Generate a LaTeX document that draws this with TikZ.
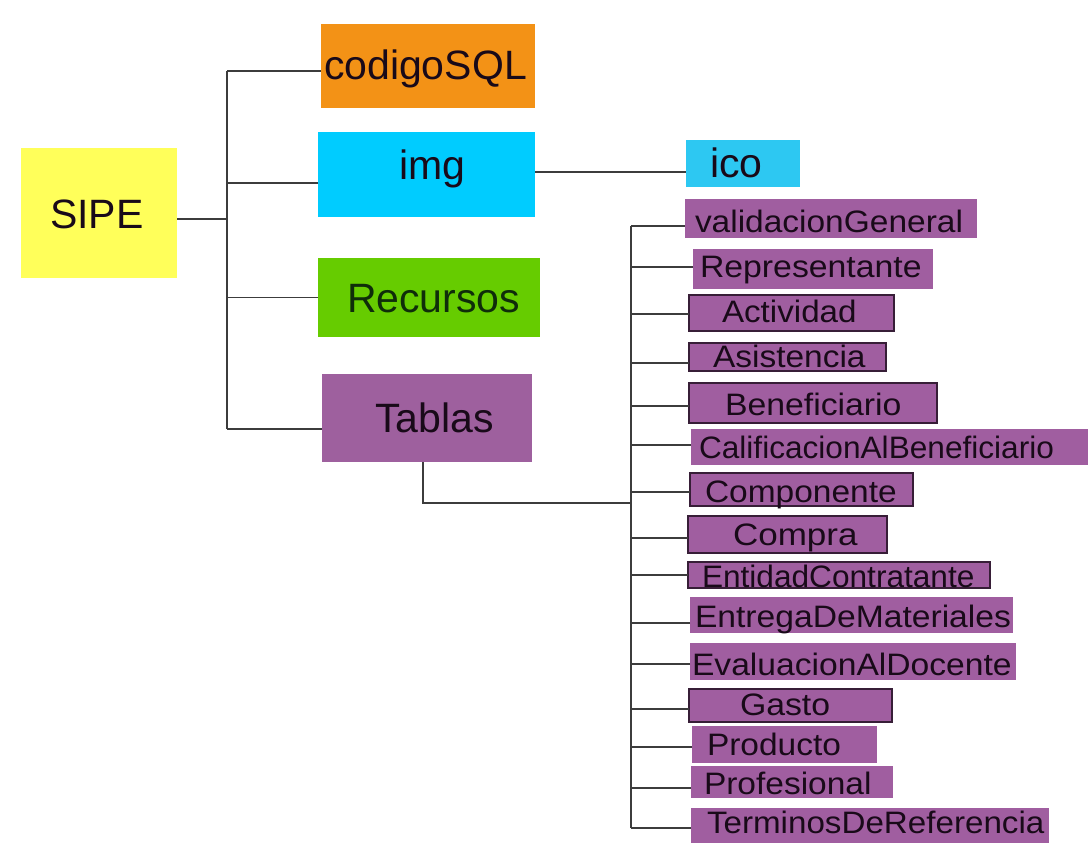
\documentclass[tikz,border=0pt]{standalone}
\usepackage{fontspec}
\setmainfont{Liberation Sans}
\usepackage{graphicx}

\definecolor{sipeYellow}{RGB}{255,255,90}
\definecolor{sqlOrange}{RGB}{243,146,22}
\definecolor{imgCyan}{RGB}{0,204,255}
\definecolor{icoCyan}{RGB}{45,200,242}
\definecolor{recGreen}{RGB}{102,204,0}
\definecolor{tabPurple}{RGB}{158,96,158}
\definecolor{leafPurple}{RGB}{160,94,160}
\definecolor{leafEdge}{RGB}{55,30,55}
\definecolor{lineGray}{RGB}{60,60,60}
\definecolor{inkDark}{RGB}{25,10,25}

\tikzset{
  boxbase/.style={rectangle, inner sep=0pt, outer sep=0pt, anchor=north west},
  bigbox/.style={boxbase},
  leafbox/.style={boxbase, fill=leafPurple},
  edged/.style={draw=leafEdge, line width=1.4pt},
  bigtext/.style={inner sep=0pt, outer sep=0pt, anchor=base west, text=inkDark,
    font=\fontsize{41pt}{41pt}\selectfont},
  leaftext/.style={inner sep=0pt, outer sep=0pt, anchor=base west, text=inkDark,
    font=\fontsize{31pt}{31pt}\selectfont},
  conn/.style={draw=lineGray, line width=1.5pt}
}

\begin{document}
\begin{tikzpicture}[x=1pt, y=-1pt]
  \useasboundingbox[fill=white] (0,0) rectangle (1089,843);

  % ---- top level boxes ----
  \node[bigbox, fill=sipeYellow, minimum width=156pt, minimum height=130pt] (sipe) at (21,148) {};
  \node[bigbox, fill=sqlOrange, minimum width=214pt, minimum height=84pt] (code) at (321,24) {};
  \node[bigbox, fill=imgCyan, minimum width=217pt, minimum height=85pt] (img) at (318,132) {};
  \node[bigbox, fill=icoCyan, minimum width=114pt, minimum height=47pt] (ico) at (686,140) {};
  \node[bigbox, fill=recGreen, minimum width=222pt, minimum height=79pt] (rec) at (318,258) {};
  \node[bigbox, fill=tabPurple, minimum width=210pt, minimum height=88pt] (tab) at (322,374) {};

  \node[bigtext] (sipe-t) at (50,228) {SIPE};
  \node[bigtext] (code-t) at (324,80) {codigoSQL};
  \node[bigtext] (img-t) at (399,179) {img};
  \node[bigtext] (ico-t) at (710,177) {ico};
  \node[bigtext, text={rgb,255:red,15;green,45;blue,10}] (rec-t) at (347,312) {Recursos};
  \node[bigtext] (tab-t) at (375,432) {Tablas};

  % ---- table leaves ----
  \node[leafbox, minimum width=292pt, minimum height=39pt] (vg) at (685,199) {};
  \node[leafbox, minimum width=240pt, minimum height=40pt] (rep) at (693,249) {};
  \node[leafbox, edged, minimum width=205pt, minimum height=36pt] (act) at (689,295) {};
  \node[leafbox, edged, minimum width=197pt, minimum height=28pt] (asi) at (689,343) {};
  \node[leafbox, edged, minimum width=248pt, minimum height=40pt] (ben) at (689,383) {};
  \node[leafbox, minimum width=397pt, minimum height=36pt] (cal) at (691,429) {};
  \node[leafbox, edged, minimum width=223pt, minimum height=33pt] (cmp) at (690,473) {};
  \node[leafbox, edged, minimum width=199pt, minimum height=37pt] (cpr) at (688,516) {};
  \node[leafbox, edged, minimum width=302pt, minimum height=26pt] (ent) at (688,562) {};
  \node[leafbox, minimum width=323pt, minimum height=36pt] (egm) at (690,597) {};
  \node[leafbox, minimum width=326pt, minimum height=37pt] (eva) at (690,643) {};
  \node[leafbox, edged, minimum width=203pt, minimum height=33pt] (gas) at (689,689) {};
  \node[leafbox, minimum width=185pt, minimum height=37pt] (pro) at (692,726) {};
  \node[leafbox, minimum width=202pt, minimum height=32pt] (prf) at (691,766) {};
  \node[leafbox, minimum width=358pt, minimum height=35pt] (ter) at (691,808) {};

  \node[leaftext] (vg-t)  at (695,232) {\scalebox{1.08}[1]{validacionGeneral}};
  \node[leaftext] (rep-t) at (700,277) {\scalebox{1.09}[1]{Representante}};
  \node[leaftext] (act-t) at (722,322) {\scalebox{1.07}[1]{Actividad}};
  \node[leaftext] (asi-t) at (713,367) {\scalebox{1.08}[1]{Asistencia}};
  \node[leaftext] (ben-t) at (725,415) {\scalebox{1.09}[1]{Beneficiario}};
  \node[leaftext] (cal-t) at (699,458) {\scalebox{1.02}[1]{CalificacionAlBeneficiario}};
  \node[leaftext] (cmp-t) at (705,502) {\scalebox{1.08}[1]{Componente}};
  \node[leaftext] (cpr-t) at (733,545) {\scalebox{1.13}[1]{Compra}};
  \node[leaftext] (ent-t) at (702,587) {\scalebox{1.02}[1]{EntidadContratante}};
  \node[leaftext] (egm-t) at (695,627) {\scalebox{1.085}[1]{EntregaDeMateriales}};
  \node[leaftext] (eva-t) at (692,675) {\scalebox{1.085}[1]{EvaluacionAlDocente}};
  \node[leaftext] (gas-t) at (740,715) {\scalebox{1.09}[1]{Gasto}};
  \node[leaftext] (pro-t) at (707,755) {\scalebox{1.08}[1]{Producto}};
  \node[leaftext] (prf-t) at (704,794) {\scalebox{1.08}[1]{Profesional}};
  \node[leaftext] (ter-t) at (707,833) {\scalebox{1.07}[1]{TerminosDeReferencia}};

  % ---- root trunk and its branches ----
  \coordinate (tk) at (227,0);
  \draw[conn] ([yshift=-6pt]sipe.east) coordinate (s0) -- (s0 -| tk);
  \foreach \n/\d in {code/-5, img/-8.5, rec/0, tab/-11}
    \draw[conn] ([yshift=\d pt]\n.west) coordinate (b0) -- (b0 -| tk) coordinate (\n-j);
  \draw[conn] (code-j) -- (tab-j);

  % ---- img to ico ----
  \draw[conn] ([yshift=2.5pt]img.east) coordinate (i0) -- (i0 -| ico.west);

  % ---- table list trunk ----
  \coordinate (lt) at (631,0);
  \foreach \n/\d in {vg/-7.5, rep/2, act/-1, asi/-6, ben/-3, cal/2, cmp/-2.5,
                     cpr/-3.5, ent/0, egm/-8, eva/-2.5, gas/-3.5, pro/-2.5,
                     prf/-6, ter/-2.5}
    \draw[conn] ([yshift=\d pt]\n.west) coordinate (b1) -- (b1 -| lt) coordinate (\n-j);
  \draw[conn] (vg-j) -- (ter-j);

  % ---- Tablas down to the list ----
  \coordinate (lj) at (631,503);
  \draw[conn] ([xshift=-4pt]tab.south) |- (lj);
\end{tikzpicture}
\end{document}
